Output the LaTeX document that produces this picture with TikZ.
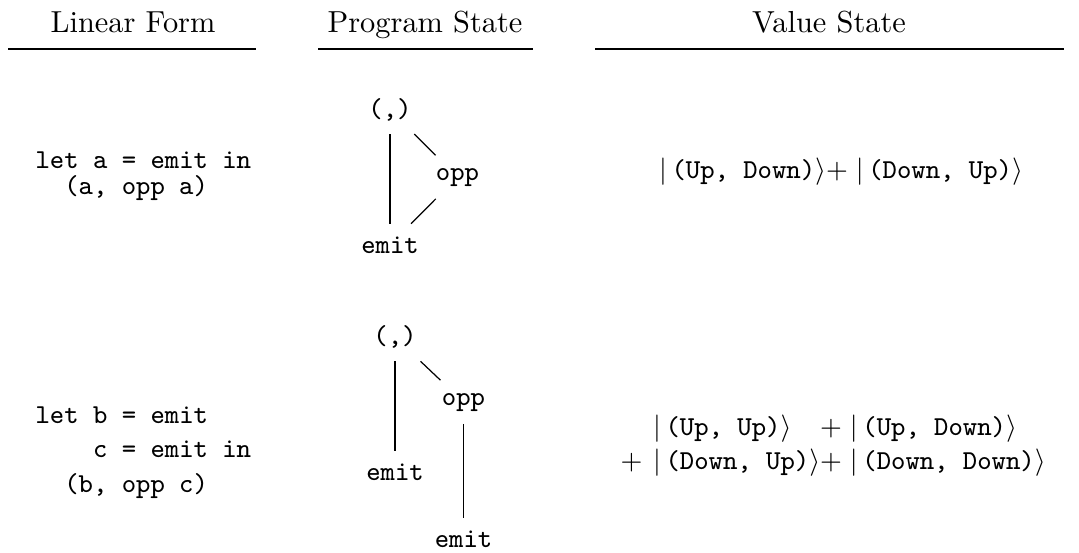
\documentclass[tikz,border=0pt]{standalone}
\newcommand{\myket}[1]{|\,\texttt{#1}\rangle}
\begin{document}
\begin{tikzpicture}[x=0.3289pt,y=-0.3289pt,
  head/.style={font=\fontsize{10}{12}\selectfont, inner sep=0pt, anchor=base},
  code/.style={font=\fontsize{9}{11}\selectfont\ttfamily, inner sep=0pt, anchor=base west},
  tnode/.style={font=\fontsize{9}{11}\selectfont\ttfamily, inner sep=4pt, anchor=base},
  edge/.style={line width=0.4pt},
  hrule/.style={line width=0.5pt},
  ket/.style={font=\fontsize{9}{11.5}\selectfont, inner sep=0pt}]
\useasboundingbox (0,0) rectangle (1079,552);
% headings
\node[head] (h1) at (133,32) {Linear Form};
\node[head] (h2) at (425,32) {Program State};
\node[head] (h3) at (829,32) {Value State};
\coordinate (r1a) at (8,49);   \coordinate (r1b) at (256,49);
\coordinate (r2a) at (318,49); \coordinate (r2b) at (533,49);
\coordinate (r3a) at (595,49); \coordinate (r3b) at (1064,49);
\draw[hrule] (r1a) -- (r1b);
\draw[hrule] (r2a) -- (r2b);
\draw[hrule] (r3a) -- (r3b);
% row 1 code
\node[code] (c11) at (35,168) {let a = emit in};
\node[code] (c12) at (35,194) {~~(a, opp a)};
% row 1 tree
\node[tnode] (p1) at (390,117.5) {(,)};
\node[tnode] (o1) at (457.5,180) {opp};
\node[tnode] (e1) at (390,253) {emit};
\draw[edge] (p1) -- (e1);
\draw[edge] (p1) -- (o1);
\draw[edge] (e1) -- (o1);
% row 1 value
\node[ket] (v1) at (841,172) {$\myket{(Up, Down)}{+}\;\myket{(Down, Up)}$};
% row 2 code
\node[code] (c21) at (35,423) {let b = emit};
\node[code] (c22) at (35,457.5) {~~~~c = emit in};
\node[code] (c23) at (35,492) {~~(b, opp c)};
% row 2 tree
\node[tnode] (p2) at (395,344.7) {(,)};
\node[tnode] (o2) at (463.5,405) {opp};
\node[tnode] (e2) at (395,480) {emit};
\node[tnode] (e3) at (463.5,547) {emit};
\draw[edge] (p2) -- (e2);
\draw[edge] (p2) -- (o2);
\draw[edge] (o2) -- (e3);
% row 2 value
\node[ket, anchor=west] (v2) at (620,445.5) {$\begin{array}{@{}r@{\hspace{3.5pt}}l@{}l@{}}
 & \myket{(Up, Up)} & {+}\;\myket{(Up, Down)}\\
{+} & \myket{(Down, Up)} & {+}\;\myket{(Down, Down)}
\end{array}$};
\end{tikzpicture}
\end{document}
